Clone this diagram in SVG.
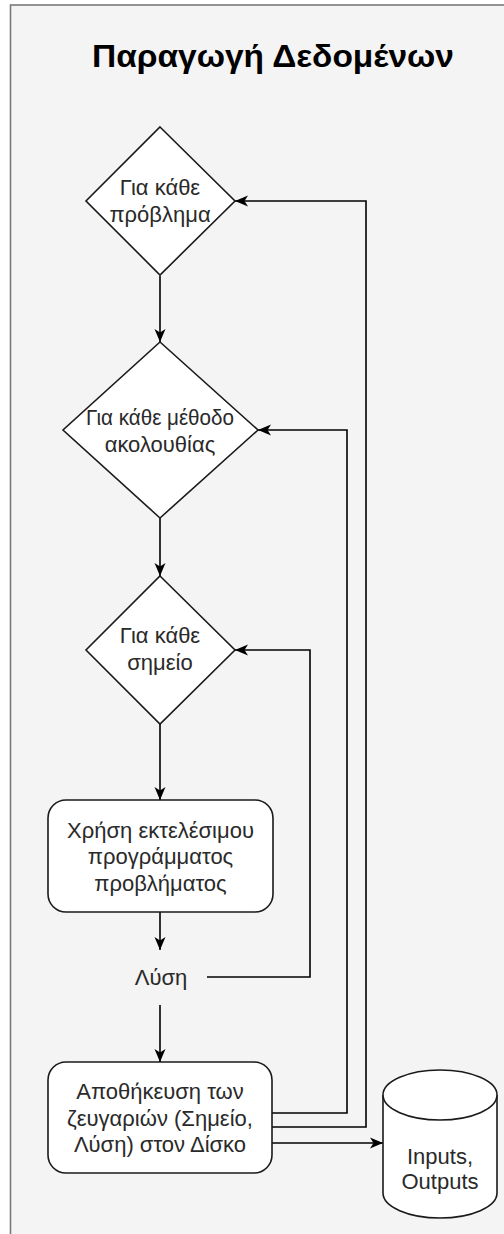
<svg xmlns="http://www.w3.org/2000/svg" width="504" height="1234" viewBox="0 0 504 1234">
  <style>
    .shape { fill: #ffffff; stroke: #1a1a1a; stroke-width: 1.6; }
    .edge { fill: none; stroke: #000000; stroke-width: 1.6; }
    .lbl { font-family: "Liberation Sans", Arial, sans-serif; font-size: 22px; fill: #2a2a2a; text-anchor: middle; }
    .title { font-family: "Liberation Sans", Arial, sans-serif; font-size: 31px; font-weight: bold; fill: #000000; text-anchor: middle; }
  </style>
  <defs>
    <marker id="arrow" markerUnits="userSpaceOnUse" markerWidth="14" markerHeight="12" refX="13" refY="6" orient="auto" viewBox="0 0 14 12">
      <path d="M0,0.5 L13,6 L0,11.5 L3.5,6 Z" fill="#000000"/>
    </marker>
  </defs>

  <!-- container -->
  <rect x="10.5" y="5" width="510" height="1250" fill="#f4f4f4" stroke="#7a7a7a" stroke-width="1.6"/>
  <text class="title" x="273" y="67" textLength="362" lengthAdjust="spacingAndGlyphs">Παραγωγή Δεδομένων</text>

  <!-- connectors -->
  <g id="connectors">
    <path class="edge" d="M160,276 V342" marker-end="url(#arrow)"/>
    <path class="edge" d="M160,518 V576" marker-end="url(#arrow)"/>
    <path class="edge" d="M160,724 V800" marker-end="url(#arrow)"/>
    <path class="edge" d="M160,912 V950" marker-end="url(#arrow)"/>
    <path class="edge" d="M160,1005 V1062" marker-end="url(#arrow)"/>
    <path class="edge" d="M207,977 H310 V650 H235" marker-end="url(#arrow)"/>
    <path class="edge" d="M272,1113 H347 V430 H258" marker-end="url(#arrow)"/>
    <path class="edge" d="M272,1127 H366 V201 H235" marker-end="url(#arrow)"/>
    <path class="edge" d="M272,1143 H383" marker-end="url(#arrow)"/>
  </g>

  <g id="loop-problem">
    <polygon class="shape" points="160,127 235,201 160,275 86,201"/>
    <text class="lbl" x="160" y="195">Για κάθε</text>
    <text class="lbl" x="160" y="222">πρόβλημα</text>
  </g>

  <g id="loop-method">
    <polygon class="shape" points="160,342 258,430 160,518 63,430"/>
    <text class="lbl" x="160" y="425" textLength="148" lengthAdjust="spacingAndGlyphs">Για κάθε μέθοδο</text>
    <text class="lbl" x="160" y="452">ακολουθίας</text>
  </g>

  <g id="loop-point">
    <polygon class="shape" points="160,576 235,650 160,724 86,650"/>
    <text class="lbl" x="160" y="643">Για κάθε</text>
    <text class="lbl" x="160" y="670">σημείο</text>
  </g>

  <g id="run-executable">
    <rect class="shape" x="48" y="800" width="225" height="112" rx="18" ry="18"/>
    <text class="lbl" x="160.5" y="838">Χρήση εκτελέσιμου</text>
    <text class="lbl" x="160.5" y="864">προγράμματος</text>
    <text class="lbl" x="160.5" y="891">προβλήματος</text>
  </g>

  <g id="solution">
    <text class="lbl" x="161" y="985">Λύση</text>
  </g>

  <g id="store-pairs">
    <rect class="shape" x="48" y="1062" width="224" height="111" rx="18" ry="18"/>
    <text class="lbl" x="160" y="1099">Αποθήκευση των</text>
    <text class="lbl" x="160" y="1126">ζευγαριών (Σημείο,</text>
    <text class="lbl" x="160" y="1152">Λύση) στον Δίσκο</text>
  </g>

  <g id="disk">
    <path class="shape" d="M383,1095 A57,25 0 0 1 497,1095 V1193 A57,25 0 0 1 383,1193 Z"/>
    <path class="shape" fill="none" d="M383,1095 A57,25 0 0 0 497,1095"/>
    <text class="lbl" x="440" y="1164">Inputs,</text>
    <text class="lbl" x="440" y="1189">Outputs</text>
  </g>
</svg>
